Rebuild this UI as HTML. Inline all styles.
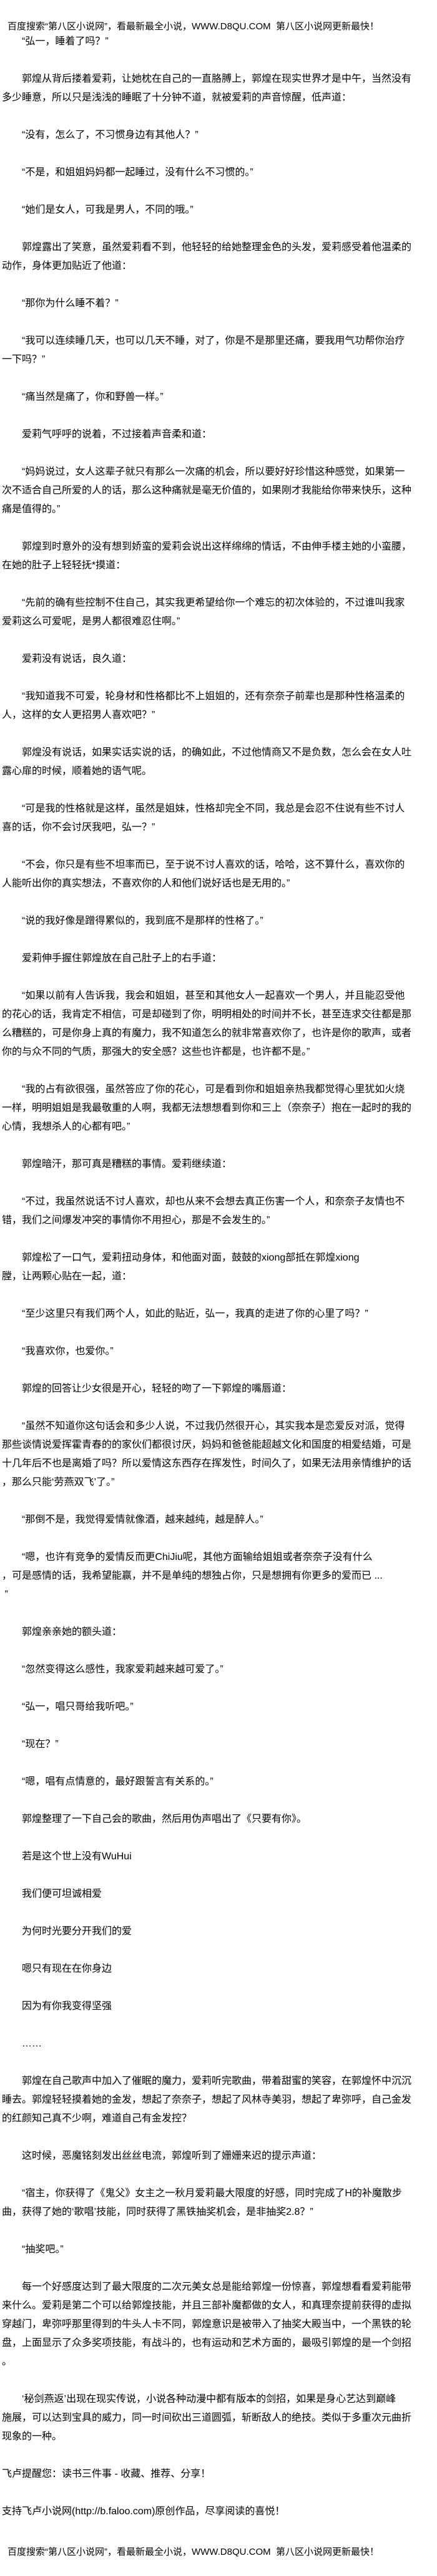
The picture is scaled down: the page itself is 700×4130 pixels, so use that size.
<!DOCTYPE html>
<html><head><meta charset="utf-8">
<style>
html,body{margin:0;padding:0;background:#fff;}
body{width:700px;height:4130px;position:relative;overflow:hidden;color:#000;
font-family:"Liberation Sans","Noto Sans CJK SC",sans-serif;font-size:16px;}
.hd{position:absolute;left:12px;height:30px;line-height:30px;white-space:pre;font-size:15px;}
#c{position:absolute;left:0;top:52px;width:700px;}
#c div{height:30px;line-height:30px;white-space:nowrap;padding-left:3px;}
#c div.i{padding-left:35px;}
</style></head><body>
<div class="hd" style="top:28px">百度搜索“第八区小说网”，看最新最全小说，WWW.D8QU.COM  第八区小说网更新最快！</div>
<div id="c">
<div class="i">“弘一，睡着了吗？”</div>
<div></div>
<div class="i">郭煌从背后搂着爱莉，让她枕在自己的一直胳膊上，郭煌在现实世界才是中午，当然没有</div>
<div>多少睡意，所以只是浅浅的睡眠了十分钟不道，就被爱莉的声音惊醒，低声道：</div>
<div></div>
<div class="i">“没有，怎么了，不习惯身边有其他人？”</div>
<div></div>
<div class="i">“不是，和姐姐妈妈都一起睡过，没有什么不习惯的。”</div>
<div></div>
<div class="i">“她们是女人，可我是男人，不同的哦。”</div>
<div></div>
<div class="i">郭煌露出了笑意，虽然爱莉看不到，他轻轻的给她整理金色的头发，爱莉感受着他温柔的</div>
<div>动作，身体更加贴近了他道：</div>
<div></div>
<div class="i">“那你为什么睡不着？”</div>
<div></div>
<div class="i">“我可以连续睡几天，也可以几天不睡，对了，你是不是那里还痛，要我用气功帮你治疗</div>
<div>一下吗？”</div>
<div></div>
<div class="i">“痛当然是痛了，你和野兽一样。”</div>
<div></div>
<div class="i">爱莉气呼呼的说着，不过接着声音柔和道：</div>
<div></div>
<div class="i">“妈妈说过，女人这辈子就只有那么一次痛的机会，所以要好好珍惜这种感觉，如果第一</div>
<div>次不适合自己所爱的人的话，那么这种痛就是毫无价值的，如果刚才我能给你带来快乐，这种</div>
<div>痛是值得的。”</div>
<div></div>
<div class="i">郭煌到时意外的没有想到娇蛮的爱莉会说出这样绵绵的情话，不由伸手楼主她的小蛮腰，</div>
<div>在她的肚子上轻轻抚*摸道：</div>
<div></div>
<div class="i">“先前的确有些控制不住自己，其实我更希望给你一个难忘的初次体验的，不过谁叫我家</div>
<div>爱莉这么可爱呢，是男人都很难忍住啊。”</div>
<div></div>
<div class="i">爱莉没有说话，良久道：</div>
<div></div>
<div class="i">“我知道我不可爱，轮身材和性格都比不上姐姐的，还有奈奈子前辈也是那种性格温柔的</div>
<div>人，这样的女人更招男人喜欢吧？”</div>
<div></div>
<div class="i">郭煌没有说话，如果实话实说的话，的确如此，不过他情商又不是负数，怎么会在女人吐</div>
<div>露心扉的时候，顺着她的语气呢。</div>
<div></div>
<div class="i">“可是我的性格就是这样，虽然是姐妹，性格却完全不同，我总是会忍不住说有些不讨人</div>
<div>喜的话，你不会讨厌我吧，弘一？”</div>
<div></div>
<div class="i">“不会，你只是有些不坦率而已，至于说不讨人喜欢的话，哈哈，这不算什么，喜欢你的</div>
<div>人能听出你的真实想法，不喜欢你的人和他们说好话也是无用的。”</div>
<div></div>
<div class="i">“说的我好像是蹭得累似的，我到底不是那样的性格了。”</div>
<div></div>
<div class="i">爱莉伸手握住郭煌放在自己肚子上的右手道：</div>
<div></div>
<div class="i">“如果以前有人告诉我，我会和姐姐，甚至和其他女人一起喜欢一个男人，并且能忍受他</div>
<div>的花心的话，我肯定不相信，可是却碰到了你，明明相处的时间并不长，甚至连求交往都是那</div>
<div>么糟糕的，可是你身上真的有魔力，我不知道怎么的就非常喜欢你了，也许是你的歌声，或者</div>
<div>你的与众不同的气质，那强大的安全感？这些也许都是，也许都不是。”</div>
<div></div>
<div class="i">“我的占有欲很强，虽然答应了你的花心，可是看到你和姐姐亲热我都觉得心里犹如火烧</div>
<div>一样，明明姐姐是我最敬重的人啊，我都无法想想看到你和三上（奈奈子）抱在一起时的我的</div>
<div>心情，我想杀人的心都有吧。”</div>
<div></div>
<div class="i">郭煌暗汗，那可真是糟糕的事情。爱莉继续道：</div>
<div></div>
<div class="i">“不过，我虽然说话不讨人喜欢，却也从来不会想去真正伤害一个人，和奈奈子友情也不</div>
<div>错，我们之间爆发冲突的事情你不用担心，那是不会发生的。”</div>
<div></div>
<div class="i">郭煌松了一口气，爱莉扭动身体，和他面对面，鼓鼓的xiong部抵在郭煌xiong</div>
<div>膛，让两颗心贴在一起，道：</div>
<div></div>
<div class="i">“至少这里只有我们两个人，如此的贴近，弘一，我真的走进了你的心里了吗？”</div>
<div></div>
<div class="i">“我喜欢你，也爱你。”</div>
<div></div>
<div class="i">郭煌的回答让少女很是开心，轻轻的吻了一下郭煌的嘴唇道：</div>
<div></div>
<div class="i">“虽然不知道你这句话会和多少人说，不过我仍然很开心，其实我本是恋爱反对派，觉得</div>
<div>那些谈情说爱挥霍青春的的家伙们都很讨厌，妈妈和爸爸能超越文化和国度的相爱结婚，可是</div>
<div>十几年后不也是离婚了吗？所以爱情这东西存在挥发性，时间久了，如果无法用亲情维护的话</div>
<div>，那么只能‘劳燕双飞’了。”</div>
<div></div>
<div class="i">“那倒不是，我觉得爱情就像酒，越来越纯，越是醉人。”</div>
<div></div>
<div class="i">“嗯，也许有竞争的爱情反而更ChiJiu呢，其他方面输给姐姐或者奈奈子没有什么</div>
<div>，可是感情的话，我希望能赢，并不是单纯的想独占你，只是想拥有你更多的爱而已 ...</div>
<div>&nbsp;”</div>
<div></div>
<div class="i">郭煌亲亲她的额头道：</div>
<div></div>
<div class="i">“忽然变得这么感性，我家爱莉越来越可爱了。”</div>
<div></div>
<div class="i">“弘一，唱只哥给我听吧。”</div>
<div></div>
<div class="i">“现在？”</div>
<div></div>
<div class="i">“嗯，唱有点情意的，最好跟誓言有关系的。”</div>
<div></div>
<div class="i">郭煌整理了一下自己会的歌曲，然后用伪声唱出了《只要有你》。</div>
<div></div>
<div class="i">若是这个世上没有WuHui</div>
<div></div>
<div class="i">我们便可坦诚相爱</div>
<div></div>
<div class="i">为何时光要分开我们的爱</div>
<div></div>
<div class="i">嗯只有现在在你身边</div>
<div></div>
<div class="i">因为有你我变得坚强</div>
<div></div>
<div class="i">……</div>
<div></div>
<div class="i">郭煌在自己歌声中加入了催眠的魔力，爱莉听完歌曲，带着甜蜜的笑容，在郭煌怀中沉沉</div>
<div>睡去。郭煌轻轻摸着她的金发，想起了奈奈子，想起了风林寺美羽，想起了卑弥呼，自己金发</div>
<div>的红颜知己真不少啊，难道自己有金发控？</div>
<div></div>
<div class="i">这时候，恶魔铭刻发出丝丝电流，郭煌听到了姗姗来迟的提示声道：</div>
<div></div>
<div class="i">“宿主，你获得了《鬼父》女主之一秋月爱莉最大限度的好感，同时完成了H的补魔散步</div>
<div>曲，获得了她的‘歌唱’技能，同时获得了黑铁抽奖机会，是非抽奖2.8？”</div>
<div></div>
<div class="i">“抽奖吧。”</div>
<div></div>
<div class="i">每一个好感度达到了最大限度的二次元美女总是能给郭煌一份惊喜，郭煌想看看爱莉能带</div>
<div>来什么。爱莉是第二个可以给郭煌技能，并且三部补魔都做的女人，和真理奈提前获得的虚拟</div>
<div>穿越门，卑弥呼那里得到的牛头人卡不同，郭煌意识是被带入了抽奖大殿当中，一个黑铁的轮</div>
<div>盘，上面显示了众多奖项技能，有战斗的，也有运动和艺术方面的，最吸引郭煌的是一个剑招</div>
<div>。</div>
<div></div>
<div class="i">‘秘剑燕返’出现在现实传说，小说各种动漫中都有版本的剑招，如果是身心艺达到巅峰</div>
<div>施展，可以达到宝具的威力，同一时间砍出三道圆弧，斩断敌人的绝技。类似于多重次元曲折</div>
<div>现象的一种。</div>
<div></div>
<div>飞卢提醒您：读书三件事 - 收藏、推荐、分享！</div>
<div></div>
<div>支持飞卢小说网(http://b.faloo.com)原创作品，尽享阅读的喜悦！</div>
</div>
<div class="hd" style="top:4077px">百度搜索“第八区小说网”，看最新最全小说，WWW.D8QU.COM  第八区小说网更新最快！</div>
</body></html>
